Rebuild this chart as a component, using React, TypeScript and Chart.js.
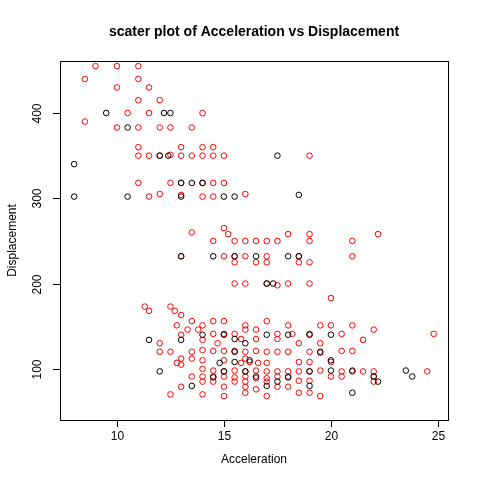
import React, { useEffect, useRef } from "react";
import { Chart, registerables } from "chart.js";
Chart.register(...registerables);

const redPts: [number, number][] = [[9,455],[10,455],[11,455],[8.5,440],[11,440],[11.5,430],[10,430],[11,415],[12,415],[10.5,400],[11.5,400],[14,400],[8.5,390],[10,383],[11,383],[12,383],[12.5,383],[13.5,383],[11,360],[13,360],[14,360],[14.5,360],[11,350],[11.5,350],[12,350],[13,350],[13.5,350],[14,350],[14.5,350],[15,350],[19,350],[12.5,351],[11,318],[12.5,318],[13,318],[14,318],[14.5,318],[15,318],[16,305],[12,305],[13,304],[14,302],[14.5,302],[11.5,302],[13.5,260],[15,265],[15.2,258],[16,250],[14.5,250],[15.5,250],[16.5,250],[17,250],[17.5,250],[19,250],[21,250],[22.2,258],[18,258],[19,258],[15,232],[15.5,232],[16,232],[17,232],[18.5,232],[21,232],[13,232],[15.5,225],[16.5,225],[17,225],[18.5,225],[19,225],[15.5,200],[16,200],[17,200],[18,200],[19,200],[17.5,198],[20,183],[11.5,168],[11.3,173],[12.5,173],[12.7,168],[13,163],[13.5,156],[14,151],[14.5,156],[15,156],[16,151],[17,156],[18,151],[19.5,151],[20,151],[21,151],[22,146],[20.5,141],[21.5,134],[16,146],[16.5,146],[14.5,141],[15,141],[15.5,141],[17.5,141],[18.2,141],[19,141],[13,140],[12.5,120],[12,120],[13.5,120],[14,122],[14.5,121],[15,121],[15.5,121],[16,120],[16.5,121],[17,120],[17.5,120],[18,120],[19,120],[19.5,119],[13.5,112],[14,110],[15,110],[16,112],[16.2,108],[17,107],[18.5,108],[19,108],[20,108],[21.5,97],[22,97],[13,105],[14,100],[14.5,98],[15,97],[15.5,98],[16,97],[16.5,98],[17,97],[17.5,97],[18,97],[18.5,97],[19,97],[19.5,98],[20.5,97],[21,97],[24.5,97],[24.8,141],[13.5,91],[14,91],[14.5,91],[15,91],[15.5,90],[16,91],[16.5,89],[17,89],[17.5,91],[18,91],[18.5,86],[19,86],[20,91],[20.5,91],[22,91],[14.5,85],[15.5,85],[16,85],[17,85],[17.5,79],[18,79],[15,79],[16,79],[16.5,76],[18.5,72],[19,72],[16,72],[14,70],[12.5,70],[13,79],[14,85],[15,68],[17,68],[19.5,68],[22,85],[13,112],[12,130],[14.7,130],[15.8,135],[16.5,135],[17.5,135],[18.5,130],[19.5,130],[20.5,121],[21,121],[16.6,107],[15.8,107],[12.8,107],[14,134],[13.8,146],[13.3,146],[12.8,151]];

const blackPts: [number, number][] = [[8,340],[8,302],[9.5,400],[10.5,383],[10.5,302],[12,350],[12.5,400],[12.2,400],[12.4,350],[13,318],[13.5,318],[14,318],[13,302],[15,302],[15.5,302],[17.5,350],[18.5,304],[13,232],[14.5,232],[15.5,232],[16.5,232],[17,200],[17.3,200],[18,232],[18.5,232],[11.5,134],[13,134],[14,140],[15,140],[15.5,135],[16,130],[17,140],[18,140],[19,140],[20,140],[19.5,120],[20,110],[21,98],[23.5,98],[23.8,91],[22,91],[20,98],[12,97],[13.5,80],[14.5,90],[15,97],[15.5,108],[16,97],[17,80],[18,90],[19,97],[19,80],[21,72],[22.2,85],[15.5,120],[16.5,91],[14.8,107],[16.2,110],[17.5,85]];

const xTicks = [10, 15, 20, 25];
const yTicks = [100, 200, 300, 400];
const title = "scater plot of Acceleration vs Displacement";
const xTitle = "Acceleration";
const yTitle = "Displacement";

export default function App() {
  const ref = useRef<HTMLCanvasElement>(null);
  useEffect(() => {
    document.body.style.margin = "0";
    const frame = {
      id: "frame",
      afterDraw(c: any) {
        const { ctx, chartArea: a, scales } = c;
        ctx.save();
        ctx.strokeStyle = "#000";
        ctx.lineWidth = 1;
        ctx.strokeRect(a.left + 0.5, a.top + 0.5, a.right - a.left, a.bottom - a.top);
        ctx.fillStyle = "#000";
        ctx.font = "12px 'Liberation Sans'";
        ctx.textAlign = "center";
        ctx.textBaseline = "top";
        xTicks.forEach((t) => {
          const x = Math.round(scales.x.getPixelForValue(t)) + 0.5;
          ctx.beginPath(); ctx.moveTo(x, a.bottom); ctx.lineTo(x, a.bottom + 7); ctx.stroke();
          ctx.fillText(String(t), x, a.bottom + 11);
        });
        yTicks.forEach((t) => {
          const y = Math.round(scales.y.getPixelForValue(t)) + 0.5;
          ctx.beginPath(); ctx.moveTo(a.left, y); ctx.lineTo(a.left - 7, y); ctx.stroke();
          ctx.save(); ctx.translate(a.left - 22, y); ctx.rotate(-Math.PI / 2);
          ctx.textBaseline = "middle"; ctx.fillText(String(t), 0, 0); ctx.restore();
        });
        ctx.fillText(xTitle, (a.left + a.right) / 2, a.bottom + 34);
        ctx.save(); ctx.translate(a.left - 47, (a.top + a.bottom) / 2); ctx.rotate(-Math.PI / 2);
        ctx.textBaseline = "middle"; ctx.fillText(yTitle, 0, 0); ctx.restore();
        ctx.font = "bold 14px 'Liberation Sans'";
        ctx.textBaseline = "middle";
        ctx.fillText(title, (a.left + a.right) / 2, 32);
        ctx.restore();
      },
    };
    const mk = (pts: [number, number][], color: string) => ({
      data: pts.map(([x, y]) => ({ x, y })),
      borderColor: color,
      backgroundColor: "transparent",
      pointRadius: 2.8,
      borderWidth: 1,
      showLine: false,
    });
    const chart = new Chart(ref.current!, {
      type: "scatter",
      data: { datasets: [mk(blackPts, "#000"), mk(redPts, "#ff0000")] },
      options: {
        animation: false,
        responsive: false,
        layout: { padding: { left: 60, right: 32, top: 61, bottom: 60 } },
        plugins: { legend: { display: false }, tooltip: { enabled: false } },
        scales: {
          x: { type: "linear", min: 7.34, max: 25.47, display: false },
          y: { type: "linear", min: 40, max: 461, display: false },
        },
      },
      plugins: [frame],
    });
    return () => chart.destroy();
  }, []);
  return <canvas ref={ref} width={480} height={480} style={{ width: 480, height: 480, display: "block" }} />;
}
